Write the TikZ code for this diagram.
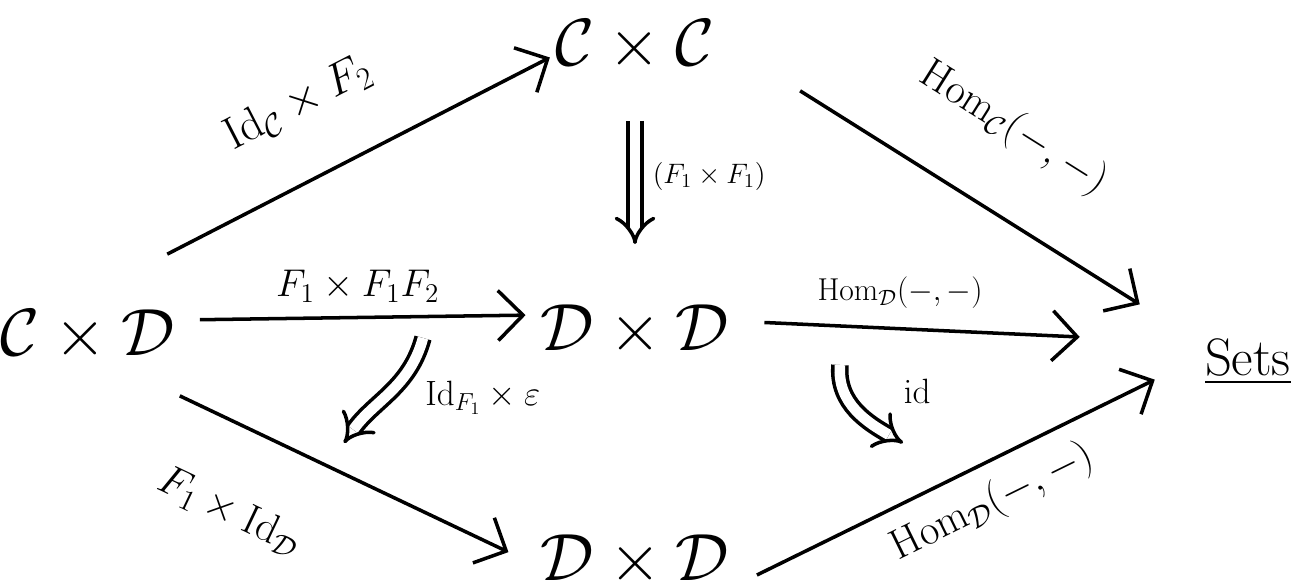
\documentclass[tikz,border=0pt]{standalone}
\usepackage{fix-cm}
\usepackage{amsmath}
\usetikzlibrary{arrows.meta, calc}

\begin{document}
\begin{tikzpicture}[
    >={Straight Barb[length=5mm, width=10mm]},
    line width=2pt,
    obj/.style={font=\fontsize{38}{44}\selectfont, inner sep=2pt},
    lbl/.style={font=\fontsize{24}{28}\selectfont, inner sep=2pt},
    small_lbl/.style={font=\fontsize{18}{22}\selectfont, inner sep=2pt},
    cell/.style={double, double distance=6pt, -{Implies}}
]

\useasboundingbox (0,0) rectangle (25.88,-11.76);

% ================= Nodes =================

% Source and the three middle objects
\node[obj] (cxd) at (1.75,-6.7) {$\mathcal{C} \times \mathcal{D}$};
\node[obj] (cxc) at (12.7,-0.9) {$\mathcal{C} \times \mathcal{C}$};
\node[obj] (dxd) at (12.7,-6.6) {$\mathcal{D} \times \mathcal{D}$};
\node[obj] (dxd_low) at (12.7,-11.2) {$\mathcal{D} \times \mathcal{D}$};

% Target
\node[obj, font=\fontsize{30}{36}\selectfont] (sets) at (24.96,-7.24) {$\underline{\mathrm{Sets}}$};

% Ends of the 2-cells
\coordinate (eps_top) at (8.46,-6.76);
\coordinate (eps_tip) at (6.88,-8.86);
\coordinate (id_top) at (16.8,-7.3);
\coordinate (id_tip) at (18.06,-8.86);

% ================= Edges =================

% Out of C x D
\draw[->] ([shift={(-0.25,1)}]cxd.north east) -- ([yshift=-0.25cm]cxc.west)
    node[pos=0.43, sloped, above=1cm, lbl, font=\fontsize{26}{30}\selectfont] {$\mathrm{Id}_{\mathcal{C}} \times F_2$};
\draw[->, shorten <=0.4cm, shorten >=0.2cm] ([yshift=0.3cm]cxd.east) -- ([yshift=0.3cm]dxd.west)
    node[midway, above=0.2cm, lbl, font=\fontsize{22}{26}\selectfont] {$F_1 \times F_1 F_2$};
\draw[->, shorten >=0.6cm] ([yshift=-0.6cm]cxd.south east) -- ([yshift=-0.1cm]dxd_low.west)
    node[pos=0.24, sloped, below=1.2cm, lbl] {$F_1 \times \mathrm{Id}_{\mathcal{D}}$};

% Into Sets
\draw[->] ([shift={(1.6,-0.3)}]cxc.south east) -- ([shift={(-1.2,0.6)}]sets.north west)
    node[pos=0.5, sloped, above=1.1cm, lbl] {$\mathrm{Hom}_{\mathcal{C}}(-,-)$};
\draw[->] ([shift={(0.6,0.15)}]dxd.east) -- ([shift={(-2.4,0.5)}]sets.west)
    node[pos=0.43, above=0.3cm, small_lbl] {$\mathrm{Hom}_{\mathcal{D}}(-,-)$};
\draw[->] ([shift={(0.45,-0.3)}]dxd_low.east) -- ([shift={(-0.9,0.2)}]sets.south west)
    node[pos=0.55, sloped, below=0.25cm, lbl] {$\mathrm{Hom}_{\mathcal{D}}(-,-)$};

% ================= 2-cells =================

\draw[cell, shorten <=0.9cm, shorten >=1.1cm] (cxc.south) -- (dxd.north)
    node[pos=0.45, right=0.25cm, lbl, font=\fontsize{16}{20}\selectfont] {$(F_1 \times F_1)$};
\draw[cell] (eps_top) to[out=-105, in=55]
    node[pos=0.55, right=0.7cm, lbl, font=\fontsize{20}{24}\selectfont] {$\mathrm{Id}_{F_1} \times \varepsilon$} (eps_tip);
\draw[cell] (id_top) to[out=-95, in=150]
    node[pos=0.25, right=1.1cm, lbl, font=\fontsize{20}{24}\selectfont] {$\mathrm{id}$} (id_tip);

\end{tikzpicture}
\end{document}
